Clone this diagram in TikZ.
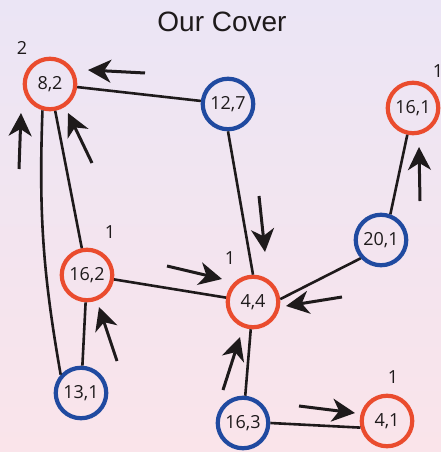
\documentclass[tikz,border=0pt]{standalone}
\usepackage{fontspec}
\setmainfont{Liberation Sans}
\newfontfamily\numfont{Open Sans}
\usetikzlibrary{arrows.meta}

\definecolor{bgtop}{RGB}{235,229,245}
\definecolor{bgbottom}{RGB}{250,228,234}
\definecolor{coverred}{RGB}{234,76,46}
\definecolor{coverblue}{RGB}{32,74,160}
\definecolor{ink}{RGB}{30,26,27}

\tikzset{
  vtx/.style={circle, line width=4.2pt, minimum size=50.5pt, inner sep=0pt,
              fill=none, text=ink, font=\numfont\fontsize{18}{18}\selectfont},
  incover/.style={vtx, draw=coverred},
  outcover/.style={vtx, draw=coverblue},
  weight/.style={text=ink, font=\numfont\fontsize{18}{18}\selectfont, inner sep=0pt},
  edge/.style={draw=ink, line width=2.6pt},
  push/.style={draw=ink, line width=3pt,
               -{Stealth[length=23pt, width=23pt, inset=7pt]}}
}

\begin{document}
\begin{tikzpicture}[x=1pt, y=-1pt]
  % canvas with vertical gradient
  \useasboundingbox (0,0) rectangle (441,452);
  \fill[top color=bgtop, bottom color=bgbottom] (0,0) rectangle (441,452);

  \node[text=ink, font=\fontsize{28}{28}\selectfont, anchor=base] (title) at (222,31.5) {Our Cover};

  % vertices
  \node[incover]  (v82)  at (50,84)   {8,2};
  \node[outcover] (v127) at (228,104) {12,7};
  \node[incover]  (v161) at (413,108) {16,1};
  \node[outcover] (v201) at (381,240) {20,1};
  \node[incover]  (v162) at (87,275)  {16,2};
  \node[incover]  (v44)  at (253,302) {4,4};
  \node[outcover] (v131) at (81,393)  {13,1};
  \node[outcover] (v163) at (243,423) {16,3};
  \node[incover]  (v41)  at (387,421) {4,1};

  % weights
  \node[weight] (w82)  at (22,48)   {2};
  \node[weight] (w161) at (438,71)  {1};
  \node[weight] (w162) at (110,232) {1};
  \node[weight] (w44)  at (230,258) {1};
  \node[weight] (w41)  at (393,377) {1};

  % edges
  \draw[edge] (v82) -- (v127);
  \draw[edge] (v82) -- (v162);
  \draw[edge] (v82.254) to[bend right=6] (v131.138);
  \draw[edge] (v162) -- (v131);
  \draw[edge] (v162) -- (v44);
  \draw[edge] (v127.south) -- (v44.north);
  \draw[edge] (v201.222) -- (v44.6);
  \draw[edge] (v201.70) -- (v161.258);
  \draw[edge] (v44) -- (v163);
  \draw[edge] (v163.east) -- (v41.194);

  % moving arrows
  \coordinate (a1s) at (145,73);  \coordinate (a1e) at (88,70);
  \coordinate (a2s) at (19,169);  \coordinate (a2e) at (21,113);
  \coordinate (a3s) at (92,163);  \coordinate (a3e) at (68,113);
  \coordinate (a4s) at (259,196); \coordinate (a4e) at (265,252);
  \coordinate (a5s) at (167,266); \coordinate (a5e) at (222,279);
  \coordinate (a6s) at (117,361); \coordinate (a6e) at (99,307);
  \coordinate (a7s) at (342,297); \coordinate (a7e) at (286,306);
  \coordinate (a8s) at (223,390); \coordinate (a8e) at (240,337);
  \coordinate (a9s) at (299,406); \coordinate (a9e) at (355,413);
  \coordinate (a10s) at (420,201); \coordinate (a10e) at (419,147);
  \foreach \k in {1,...,10}{
    \draw[push] (a\k s) -- (a\k e);
  }
\end{tikzpicture}
\end{document}
